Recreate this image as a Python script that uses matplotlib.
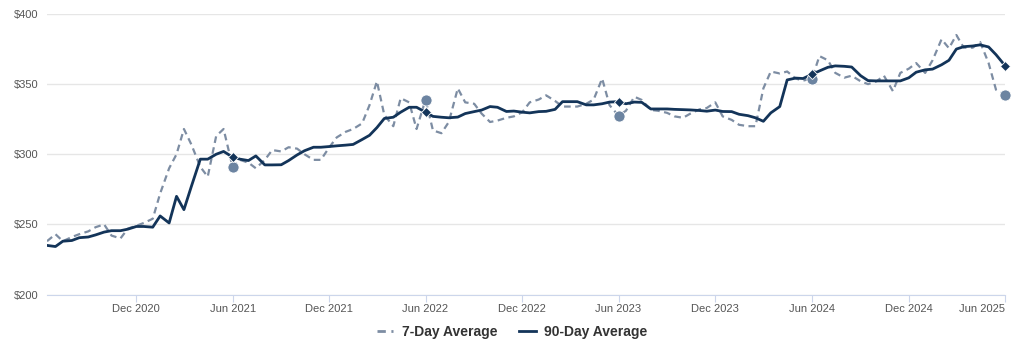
import matplotlib
matplotlib.use('Agg')
import matplotlib.pyplot as plt
import matplotlib.dates as mdates
import pandas as pd
from matplotlib.lines import Line2D

plt.rcParams['font.family'] = ['Liberation Sans', 'DejaVu Sans']

# semi-monthly sample dates (1st and 15th), mid Jun 2020 .. Jun 1 2025
dates = pd.date_range('2020-06-15', '2025-06-01', freq='SMS')

avg_90 = [
    235, 234.2, 238, 238.5, 240.5, 241, 242.5, 244.5, 245.5, 245.5,
    246.6, 248.5, 248.5, 248, 256, 251, 270, 260.5, 277, 296.5,
    296.5, 300, 302, 298, 296.5, 295.5, 298.8, 292.4, 292.4, 292.5,
    295.5, 299.5, 302.5, 305, 305, 305.5, 306, 306.5, 307, 310.5,
    313.5, 319, 325.5, 326.4, 330, 333.5, 333.5, 330, 327, 326.4,
    326, 326.5, 329, 330.4, 331.5, 334, 333.5, 330.5, 330.8, 330,
    329.5, 330.4, 330.6, 332, 337.5, 337.5, 337.5, 335.2, 335.2, 336,
    337.2, 337.5, 336, 337.2, 337, 332.3, 332.3, 332.3, 332, 331.8,
    331.6, 331.2, 330.7, 331.5, 330.5, 330.4, 328.5, 327.5, 326, 323.5,
    329.5, 334, 353, 354.3, 354, 357, 359.4, 362, 363, 362.7,
    362.2, 356, 352.5, 352.3, 352.3, 352.3, 352.3, 354.5, 358.5, 360.2,
    360.7, 363.8, 367, 375, 376.7, 377.2, 378, 376.5, 371, 363.2,
]

avg_7 = [
    238, 243, 238, 241, 243, 245, 248, 250, 242, 240,
    247, 249, 251, 254, 272, 290, 300, 318, 307, 291,
    284, 313, 318, 291, 296, 294, 290, 296, 303, 302,
    305, 304, 300, 296, 296, 305, 312, 316, 318, 322,
    335, 352, 328, 320, 340, 337, 318, 339, 317, 315,
    323, 347, 337, 336, 329, 323, 324, 326, 327, 330,
    337, 339, 342, 338, 334, 334, 334, 336, 339, 354,
    335, 327.5, 331, 341, 338.7, 331.6, 331, 329.5, 327, 326,
    329, 332, 333, 337, 327, 324.5, 321, 320, 320, 347,
    359, 357.6, 359, 354, 352.5, 354, 370, 367, 358, 354.6,
    356, 352, 350, 352, 356, 345, 358, 361, 365, 358,
    367, 382, 375.6, 385, 376, 376, 380, 365, 346, 342.3,
]

# June snapshots marked on both series
june_idx = [23, 47, 71, 95, 119]

tick_labels = ['Dec 2020', 'Jun 2021', 'Dec 2021', 'Jun 2022', 'Dec 2022',
               'Jun 2023', 'Dec 2023', 'Jun 2024', 'Dec 2024', 'Jun 2025']
tick_dates = pd.to_datetime(['2020-12-01', '2021-06-01', '2021-12-01', '2022-06-01',
                             '2022-12-01', '2023-06-01', '2023-12-01', '2024-06-01',
                             '2024-12-01', '2025-06-01'])

c7 = '#7d8da3'
c7m = '#6c84a1'
c90 = '#133459'

fig = plt.figure(figsize=(10.24, 3.46), dpi=100)
ax = fig.add_axes([47 / 1024, 1 - 294.5 / 346, (1005 - 47) / 1024, (294.5 - 14) / 346])

ax.plot(dates, avg_7, color=c7, lw=1.6, dashes=(3, 2), zorder=2)
ax.plot(dates, avg_90, color=c90, lw=2.0, zorder=3)

jd = [dates[i] for i in june_idx]
ax.plot(jd, [avg_7[i] for i in june_idx], 'o', color=c7m, ms=8, mec='white', mew=0.6,
        zorder=4, clip_on=False)
ax.plot(jd, [avg_90[i] for i in june_idx], 'D', color=c90, ms=5.5, mec='white', mew=0.6,
        zorder=5, clip_on=False)

ax.set_xlim(dates[0], dates[-1])
ax.set_ylim(200, 400)
ax.set_yticks([200, 250, 300, 350, 400])
ax.set_yticklabels(['$200', '$250', '$300', '$350', '$400'])
ax.set_xticks(tick_dates)
ax.set_xticklabels(tick_labels)
lbls = ax.get_xticklabels()
lbls[-1].set_horizontalalignment('right')

ax.grid(axis='y', color='#e6e6e6', lw=1)
ax.set_axisbelow(True)
for s in ['left', 'right', 'top']:
    ax.spines[s].set_visible(False)
ax.spines['bottom'].set_color('#ccd6eb')
ax.tick_params(axis='y', length=0, pad=6, labelsize=8, labelcolor='#555555')
ax.tick_params(axis='x', length=5, color='#ccd6eb', pad=2, labelsize=8, labelcolor='#555555')

handles = [Line2D([], [], color=c7, lw=2, dashes=(3, 2)),
           Line2D([], [], color=c90, lw=2)]
leg = fig.legend(handles, ['7-Day Average', '90-Day Average'], loc='center',
                 bbox_to_anchor=(0.5, 1 - 332 / 346), ncol=2, frameon=False,
                 handlelength=1.2, columnspacing=1.6, handletextpad=0.6,
                 prop={'weight': 'bold', 'size': 10})
for t in leg.get_texts():
    t.set_color('#333333')

fig.savefig('out.png', dpi=100)
